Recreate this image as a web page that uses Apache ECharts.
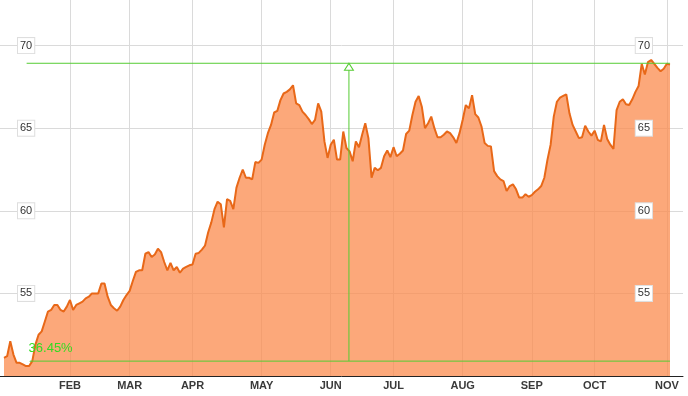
<!DOCTYPE html>
<html>
<head>
<meta charset="utf-8">
<script src="https://cdn.jsdelivr.net/npm/echarts@6/dist/echarts.min.js"></script>
<style>
html,body{margin:0;padding:0;background:#fff;}
#chart{width:688px;height:396px;}
</style>
</head>
<body>
<div id="chart"></div>
<script>
// ---- data ----
const monthLabels = ['JAN','FEB','MAR','APR','MAY','JUN','JUL','AUG','SEP','OCT','NOV','DEC'];
const firstDay = '2013-01-02';
const lastDay = '2013-11-04';
const marketHolidays = ['2013-01-01','2013-01-21','2013-02-18','2013-03-29','2013-05-27','2013-07-04','2013-09-02'];
const closes = [
  51.1, 51.2, 52.1, 51.3, 50.8, 50.8, 50.7, 50.6, 50.6, 50.9,
  51.9, 52.5, 52.7, 53.3, 53.9, 54.0, 54.3, 54.3, 54.0, 53.9,
  54.2, 54.6, 54.0, 54.3, 54.4, 54.5, 54.7, 54.8, 55.0, 55.0,
  55.0, 55.6, 55.6, 54.8, 54.3, 54.1, 53.95, 54.2, 54.6, 54.9,
  55.15, 55.75, 56.3, 56.4, 56.4, 57.4, 57.5, 57.2, 57.35, 57.7,
  57.5, 56.9, 56.4, 56.85, 56.4, 56.6, 56.25, 56.5, 56.6, 56.7,
  56.75, 57.4, 57.45, 57.65, 57.9, 58.7, 59.3, 60.1, 60.55, 60.4,
  59.0, 60.7, 60.6, 60.1, 61.4, 62.0, 62.5, 62.0, 62.0, 61.9,
  62.95, 62.9, 63.1, 64.0, 64.7, 65.2, 65.95, 66.05, 66.7, 67.1,
  67.2, 67.35, 67.6, 66.5, 66.4, 66.0, 65.8, 65.55, 65.25, 65.5,
  66.5, 66.0, 64.2, 63.2, 64.0, 64.3, 63.1, 63.1, 64.8, 63.8,
  63.6, 63.0, 64.2, 63.85, 64.6, 65.3, 64.4, 62.0, 62.6, 62.45,
  62.6, 63.3, 63.65, 63.25, 63.85, 63.3, 63.45, 63.65, 64.65, 64.85,
  65.8, 66.6, 66.95, 66.3, 65.0, 65.3, 65.7, 65.0, 64.45, 64.45,
  64.6, 64.8, 64.7, 64.45, 64.1, 64.7, 65.5, 66.4, 66.2, 67.0,
  65.85, 65.65, 65.1, 64.1, 63.93, 63.9, 62.4, 62.1, 61.9, 61.8,
  61.2, 61.5, 61.6, 61.3, 60.8, 60.8, 61.0, 60.85, 60.95, 61.15,
  61.3, 61.5, 62.0, 63.1, 64.0, 65.7, 66.6, 66.85, 66.95, 67.05,
  65.9, 65.2, 64.8, 64.4, 64.45, 65.15, 64.8, 64.55, 64.85, 64.3,
  64.2, 65.2, 64.35, 64.0, 63.75, 66.1, 66.6, 66.75, 66.45, 66.4,
  66.75, 67.2, 67.55, 68.9, 68.25, 69.0, 69.13, 68.9, 68.65, 68.45,
  68.6, 68.9, 68.85
];
// measuring tool (green): low / high levels and where they start (trading-day index)
const measureLevels = [50.9, 68.93];
const measureStarts = [8.3, 7.2];
const measureEnd = 212;
const measureArrowAt = 109.8;
const measureText = '36.45%';

// ---- trading calendar ----
function buildTradingDays(from, to, holidays) {
  const out = [];
  const d = new Date(from + 'T00:00:00Z');
  const end = new Date(to + 'T00:00:00Z');
  while (d <= end) {
    const wd = d.getUTCDay();
    const s = d.toISOString().slice(0, 10);
    if (wd !== 0 && wd !== 6 && holidays.indexOf(s) < 0) out.push(s);
    d.setUTCDate(d.getUTCDate() + 1);
  }
  return out;
}
const tradingDays = buildTradingDays(firstDay, lastDay, marketHolidays);
const monthStarts = [];
for (let i = 1; i < tradingDays.length; i++) {
  if (tradingDays[i].slice(5, 7) !== tradingDays[i - 1].slice(5, 7)) monthStarts.push(i);
}

const GREEN = '#55cc33';
const chart = echarts.init(document.getElementById('chart'), null, {renderer: 'canvas'});
const labelBox = {
  inside: true,
  fontSize: 11,
  color: '#333',
  fontFamily: 'Liberation Sans, Arial, sans-serif',
  backgroundColor: '#fff',
  borderColor: '#dedede',
  borderWidth: 1,
  padding: [2, 2, 2, 2],
  showMinLabel: false,
  showMaxLabel: false
};

chart.setOption({
  animation: false,
  grid: {left: 0, right: 5, top: -37, bottom: 20, containLabel: false, outerBoundsMode: 'none'},
  xAxis: {
    type: 'value',
    min: -1.273,
    max: 216.14,
    axisLine: {show: true, lineStyle: {color: '#222', width: 1}},
    axisTick: {show: false, customValues: monthStarts},
    splitLine: {show: true, lineStyle: {color: '#dadada', width: 1}},
    axisLabel: {
      customValues: monthStarts,
      margin: 4,
      fontSize: 11,
      fontWeight: 'bold',
      color: '#3a3a3a',
      fontFamily: 'Liberation Sans, Arial, sans-serif',
      formatter: function (v) {
        const d = tradingDays[Math.round(v)];
        return d ? monthLabels[parseInt(d.slice(5, 7), 10) - 1] : '';
      }
    }
  },
  yAxis: [
    {
      type: 'value', position: 'left', min: 50, max: 75, interval: 5,
      axisLine: {show: false}, axisTick: {show: false},
      splitLine: {show: true, lineStyle: {color: '#dadada', width: 1}},
      axisLabel: Object.assign({}, labelBox, {margin: 18})
    },
    {
      type: 'value', position: 'right', min: 50, max: 75, interval: 5, z: 10,
      axisLine: {show: false}, axisTick: {show: false},
      splitLine: {show: false},
      axisLabel: Object.assign({}, labelBox, {margin: 31})
    }
  ],
  series: [
    {
      type: 'line',
      data: closes.map((v, i) => [i, v]),
      showSymbol: false,
      smooth: false,
      lineStyle: {color: '#e86818', width: 2},
      areaStyle: {color: 'rgb(251,140,80)', opacity: 0.76},
      emphasis: {disabled: true},
      z: 2
    },
    {
      type: 'line',
      data: [[measureStarts[1], measureLevels[1]], [measureEnd, measureLevels[1]]],
      showSymbol: false,
      lineStyle: {color: GREEN, width: 1},
      emphasis: {disabled: true},
      z: 4
    },
    {
      type: 'line',
      data: [
        {value: [measureStarts[0], measureLevels[0]], symbol: 'circle', symbolSize: 1,
         label: {show: true, formatter: measureText, position: [-1, -12], align: 'left', verticalAlign: 'middle',
                 color: '#33dd22', fontSize: 13, fontFamily: 'Liberation Sans, Arial, sans-serif'}},
        {value: [measureEnd, measureLevels[0]], symbol: 'none'}
      ],
      showSymbol: true,
      itemStyle: {color: GREEN},
      lineStyle: {color: GREEN, width: 1},
      emphasis: {disabled: true},
      z: 4
    },
    {
      type: 'line',
      data: [
        {value: [measureArrowAt, measureLevels[0]], symbol: 'none'},
        {value: [measureArrowAt, measureLevels[1]], symbol: 'triangle', symbolSize: [9, 7], symbolOffset: [0, 3.5],
         itemStyle: {color: '#fff', borderColor: GREEN, borderWidth: 1}}
      ],
      showSymbol: true,
      lineStyle: {color: GREEN, width: 1},
      emphasis: {disabled: true},
      z: 4
    }
  ]
});
</script>
</body>
</html>
